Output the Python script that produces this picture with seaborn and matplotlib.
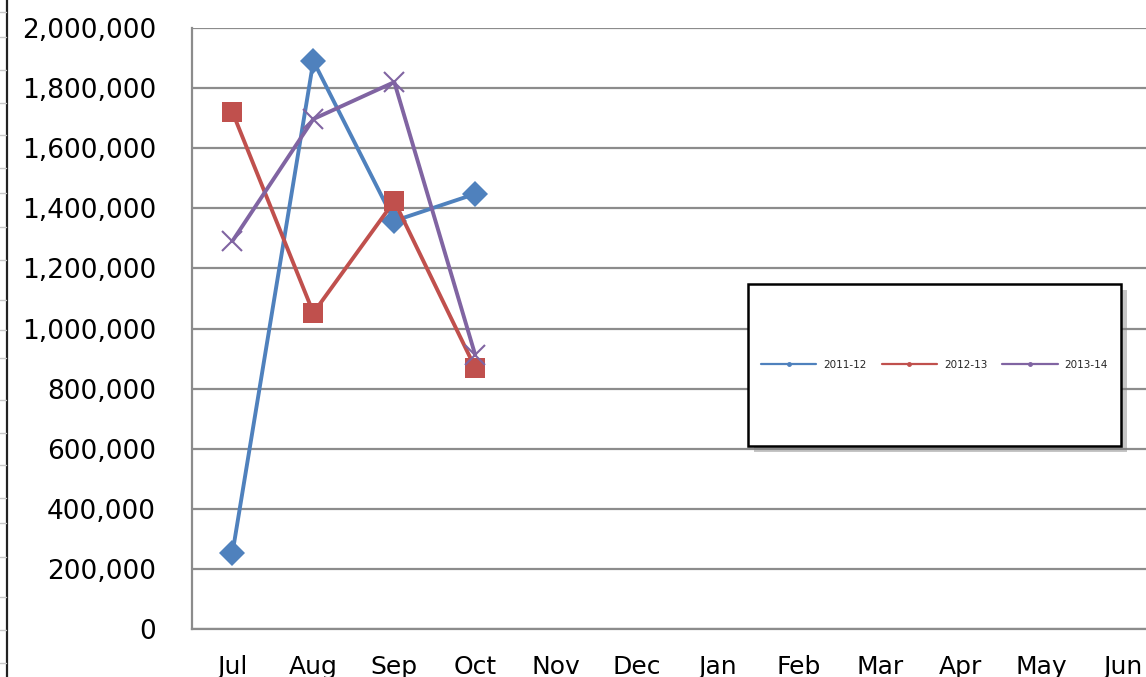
import matplotlib
matplotlib.use("Agg")
import matplotlib.pyplot as plt
import matplotlib.patheffects as pe
from matplotlib.patches import Rectangle
from matplotlib.lines import Line2D
import seaborn as sns
import pandas as pd

months = ["Jul", "Aug", "Sep", "Oct", "Nov", "Dec", "Jan", "Feb", "Mar", "Apr", "May", "Jun"]
season_2011_12 = [253000, 1890000, 1358000, 1448000]
season_2012_13 = [1720000, 1052000, 1424000, 869000]
season_2013_14 = [1291000, 1697000, 1820000, 912000]
seasons = ["2011-12", "2012-13", "2013-14"]
colors = ["#4F81BD", "#C0504D", "#8064A2"]
markers = ["D", "s", "x"]

rows = []
for name, vals in zip(seasons, [season_2011_12, season_2012_13, season_2013_14]):
    for i, v in enumerate(vals):
        rows.append({"month": i, "value": v, "season": name})
df = pd.DataFrame(rows)

sns.set_style("white")
plt.rcParams["font.family"] = ["DejaVu Sans"]

W, H = 1146, 677
fig = plt.figure(figsize=(W / 100, H / 100), dpi=100)
ax = fig.add_axes([192 / W, 1 - 629 / H, 971 / W, 601 / H])

for name, col, mk in zip(seasons, colors, markers):
    sub = df[df["season"] == name]
    sns.lineplot(data=sub, x="month", y="value", ax=ax, color=col, linewidth=2.8,
                 marker=mk, markersize=15 if mk == "x" else (14 if mk == "s" else 13.5),
                 markeredgewidth=1.5 if mk == "x" else 0,
                 markeredgecolor=col, legend=False)

ax.set_xlim(-0.5, 11.5)
ax.set_ylim(0, 2000000)
ax.set_yticks(range(0, 2000001, 200000))
ax.set_yticklabels([f"{v:,}" for v in range(0, 2000001, 200000)])
ax.set_xticks(range(12))
ax.set_xticklabels(months)
ax.set_xlabel("")
ax.set_ylabel("")
ax.yaxis.grid(True, color="#8c8c8c", linewidth=1.6)
ax.set_axisbelow(True)
ax.tick_params(axis="y", labelsize=19, pad=26, colors="#000000", length=0)
ax.tick_params(axis="x", labelsize=18, pad=19, length=0, colors="#000000")
for s in ["top", "right"]:
    ax.spines[s].set_visible(False)
for s in ["left", "bottom"]:
    ax.spines[s].set_color("#8c8c8c")
    ax.spines[s].set_linewidth(1.6)

# Legend box with soft shadow
bx0, by0, bw, bh = 748 / W, 1 - 446 / H, 373 / W, 162 / H
box = Rectangle((bx0, by0), bw, bh, transform=fig.transFigure, facecolor="white",
                edgecolor="black", linewidth=1.8, zorder=5,
                path_effects=[pe.SimplePatchShadow(offset=(4, -4), shadow_rgbFace="#7f7f7f", alpha=0.45),
                              pe.Normal()])
fig.add_artist(box)
handles = [Line2D([], [], color=c, linewidth=1.6, marker="o", markersize=2.5) for c in colors]
leg = fig.legend(handles, seasons, loc="center", bbox_to_anchor=(bx0 + bw / 2, by0 + bh / 2),
                 ncol=3, frameon=False, fontsize=7.5, handlelength=5.3, handletextpad=0.67,
                 columnspacing=1.45)
leg.set_zorder(6)

# Sheet border on the far left
fig.add_artist(Line2D([7 / W, 7 / W], [0, 1], transform=fig.transFigure, color="#222222", linewidth=1.6))
for yp in [12, 37, 70, 103, 135, 168, 193, 227, 260, 300, 330, 358, 400, 433, 465, 498, 523, 557, 597, 630, 663]:
    fig.add_artist(Line2D([0, 6 / W], [1 - yp / H, 1 - yp / H], transform=fig.transFigure,
                          color="#c8c8c8", linewidth=1))

fig.savefig("out.png", dpi=100)
